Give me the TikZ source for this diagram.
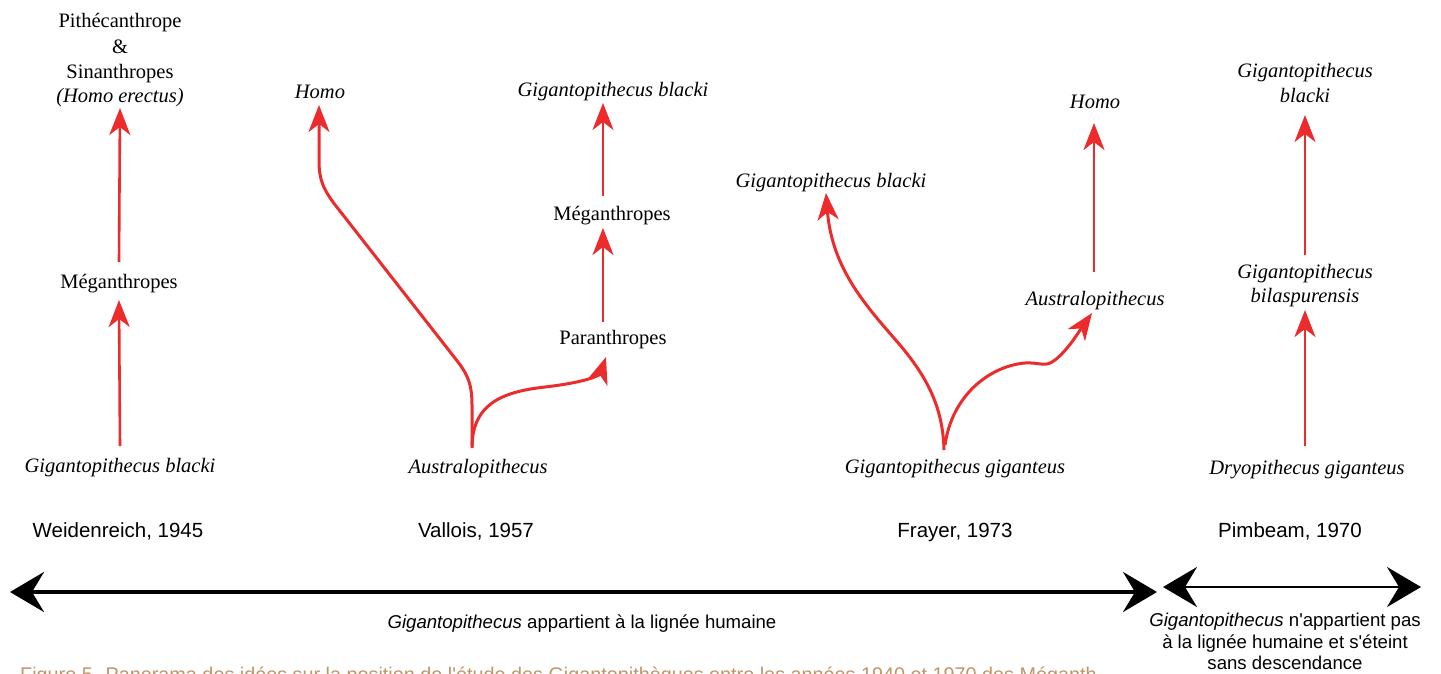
\documentclass[tikz,border=0pt]{standalone}
\usepackage{fontspec}
\setmainfont{Liberation Serif}
\newfontfamily\arialfont{Liberation Sans}
\usetikzlibrary{arrows.meta}
\definecolor{arrred}{RGB}{236,44,44}
\definecolor{captan}{RGB}{190,150,105}
\begin{document}
\begin{tikzpicture}[x=1pt,y=-1pt,
  lbl/.style={inner sep=0pt,anchor=base,font=\fontsize{20.5}{24}\selectfont},
  ilbl/.style={lbl,font=\fontsize{20.5}{24}\selectfont\itshape},
  yearlbl/.style={inner sep=0pt,anchor=base,font=\arialfont\fontsize{20.5}{24}\selectfont},
  sidelbl/.style={inner sep=0pt,anchor=base,font=\arialfont\fontsize{18.6}{23}\selectfont},
  ra/.style={draw=arrred,line width=2.6pt,-{Stealth[length=27pt,width=21pt,inset=8pt]}},
  rc/.style={ra,line width=3pt},
  ba/.style={draw=black,line width=4pt,{Stealth[length=34pt,width=40pt,inset=12pt]}-{Stealth[length=34pt,width=40pt,inset=12pt]}},
  bb/.style={ba,line width=2.6pt}]
\clip (0,0) rectangle (1441,673);
\fill[white] (0,0) rectangle (1441,673);
% Column 1: Weidenreich
\node[lbl] (pith) at (120,27) {Pithécanthrope};
\node[lbl] (amp) at (120,53) {\&};
\node[lbl] (sinan) at (120,78) {Sinanthropes};
\node[ilbl] (herect) at (120,102) {(Homo erectus)};
\node[lbl] (megA) at (119,288) {Méganthropes};
\node[ilbl] (gbA) at (120,472) {Gigantopithecus blacki};
\node[yearlbl] (yA) at (118,537) {Weidenreich, 1945};
\draw[ra] ([yshift=26pt]gbA.base) -- ([yshift=-12pt]megA.base);
\draw[ra] ([yshift=26pt]megA.base) -- ([yshift=-6pt]herect.base);
% Column 2: Vallois
\node[ilbl] (homoB) at (320,98) {Homo};
\node[ilbl] (ausB) at (478,473) {Australopithecus};
\node[lbl] (parB) at (613,344) {Paranthropes};
\node[lbl] (megB) at (612,220) {Méganthropes};
\node[ilbl] (gbB) at (613,96) {Gigantopithecus blacki};
\node[yearlbl] (yB) at (476,537) {Vallois, 1957};
\draw[rc] ([xshift=-6pt,yshift=25pt]ausB.base) -- (472,405)
  .. controls (472,385) and (468,375) .. (458,362) -- (336,206)
  .. controls (322,188) and (319,178) .. (319,160) -- ([xshift=-1pt,yshift=-7pt]homoB.base);
\draw[rc] ([xshift=-6pt,yshift=27pt]ausB.base)
  .. controls (473,405) and (500,392) .. (545,387)
  .. controls (588,382) and (600,375) .. ([xshift=-7pt,yshift=-13pt]parB.base);
\draw[ra] ([xshift=-10pt,yshift=22pt]parB.base) -- ([xshift=-9pt,yshift=-8pt]megB.base);
\draw[ra] ([xshift=-9pt,yshift=24pt]megB.base) -- ([xshift=-10pt,yshift=-7pt]gbB.base);
% Column 3: Frayer
\node[ilbl] (gbC) at (831,187) {Gigantopithecus blacki};
\node[ilbl] (homoC) at (1095,108) {Homo};
\node[ilbl] (ausC) at (1095,305) {Australopithecus};
\node[ilbl] (ggC) at (955,473) {Gigantopithecus giganteus};
\node[yearlbl] (yC) at (955,537) {Frayer, 1973};
\draw[rc] ([xshift=-11pt,yshift=23pt]ggC.base)
  .. controls (943,405) and (925,375) .. (900,345)
  .. controls (868,308) and (832,270) .. ([xshift=-5pt,yshift=-6pt]gbC.base);
\draw[rc] ([xshift=-10pt,yshift=28pt]ggC.base)
  .. controls (952,395) and (990,366) .. (1025,363)
  .. controls (1040,362) and (1045,368) .. (1055,360)
  .. controls (1068,350) and (1080,330) .. ([xshift=-3pt,yshift=-8pt]ausC.base);
\draw[ra] ([xshift=-1pt,yshift=33pt]ausC.base) -- ([xshift=-1pt,yshift=-15pt]homoC.base);
% Column 4: Pimbeam
\node[ilbl] (gbD1) at (1305,77) {Gigantopithecus};
\node[ilbl] (gbD2) at (1305,102) {blacki};
\node[ilbl] (bilD1) at (1305,278) {Gigantopithecus};
\node[ilbl] (bilD2) at (1305,302) {bilaspurensis};
\node[ilbl] (dryD) at (1307,474) {Dryopithecus giganteus};
\node[yearlbl] (yD) at (1290,537) {Pimbeam, 1970};
\draw[ra] ([xshift=-2pt,yshift=28pt]dryD.base) -- ([yshift=-8pt]bilD2.base);
\draw[ra] ([yshift=23pt]bilD1.base) -- ([yshift=-13pt]gbD2.base);
% Bottom axis
\coordinate (axL) at (10,592);
\coordinate (axR) at (1157,592);
\coordinate (axL2) at (1163,587);
\coordinate (axR2) at (1421,587);
\draw[ba] (axL) -- (axR);
\draw[bb] (axL2) -- (axR2);
\node[sidelbl] (humain) at (582,628) {\itshape Gigantopithecus\upshape{} appartient à la lignée humaine};
\node[sidelbl] (nonh1) at (1285,626) {\itshape Gigantopithecus\upshape{} n'appartient pas};
\node[sidelbl] (nonh2) at (1285,648) {à la lignée humaine et s'éteint};
\node[sidelbl] (nonh3) at (1285,669) {sans descendance};
\node[inner sep=0pt,anchor=base west,text=captan,font=\arialfont\fontsize{19.8}{23}\selectfont] (cap) at (20,681) {Figure 5. Panorama des idées sur la position de l'étude des Gigantopithèques entre les années 1940 et 1970 des Méganth};
\end{tikzpicture}
\end{document}
